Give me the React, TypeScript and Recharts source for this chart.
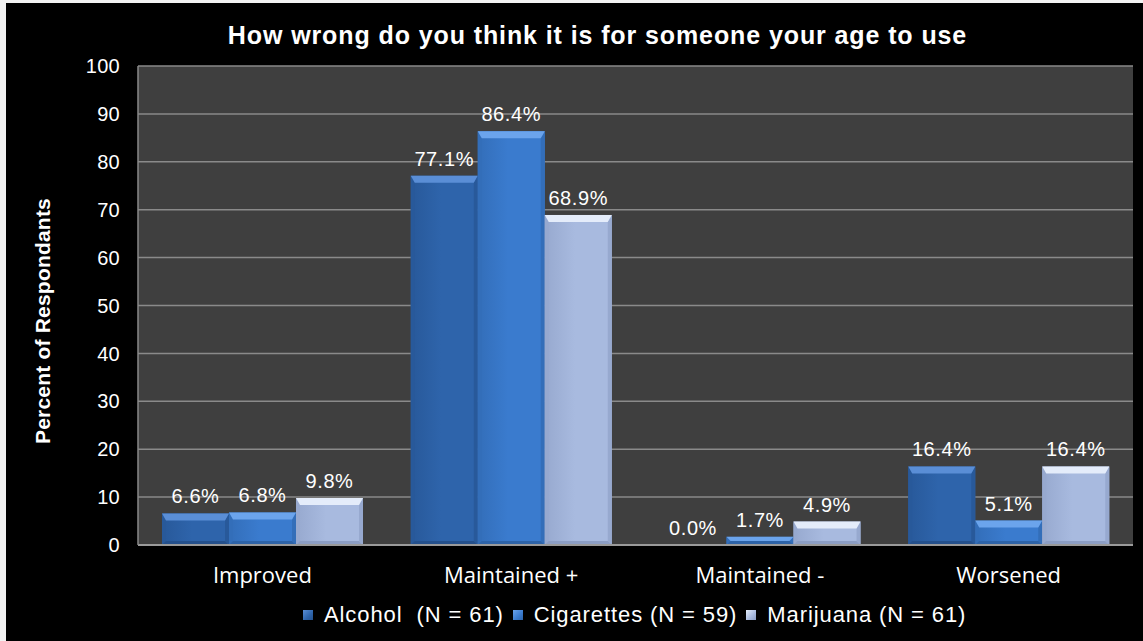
import React from 'react';
import { BarChart, Bar, XAxis, YAxis, CartesianGrid, Legend, LabelList } from 'recharts';

const categories = ['Improved', 'Maintained +', 'Maintained -', 'Worsened'];
const alcohol = [6.6, 77.1, 0.0, 16.4];
const cigarettes = [6.8, 86.4, 1.7, 5.1];
const marijuana = [9.8, 68.9, 4.9, 16.4];
const seriesNames = ['Alcohol  (N = 61)', 'Cigarettes (N = 59)', 'Marijuana (N = 61)'];
const yTicks = [0, 10, 20, 30, 40, 50, 60, 70, 80, 90, 100];

const data = categories.map((name, i) => ({
  name,
  alcohol: alcohol[i],
  cigarettes: cigarettes[i],
  marijuana: marijuana[i],
}));

const colors = {
  alcohol: { base: '#2e64ab', edge: '#28599a', top: '#5a8ed6', bottom: '#24508c', icon: '#3a72bd' },
  cigarettes: { base: '#3a7bce', edge: '#336eb9', top: '#6ba4ec', bottom: '#2d63a8', icon: '#4a8ad8' },
  marijuana: { base: '#a8badf', edge: '#97a9cf', top: '#e4ecfa', bottom: '#8c9ec4', icon: '#b6c5e4' },
};

type Key = keyof typeof colors;

const bevelBar = (key: Key) => (props: any) => {
  const { x, y, width, height } = props;
  if (!height || height <= 0.5) return <g />;
  const c = colors[key];
  const b = Math.min(7, height / 2, width / 2);
  const s = Math.min(4, height / 2);
  const x2 = x + width;
  const y2 = y + height;
  return (
    <g>
      <rect x={x} y={y} width={width} height={height} fill={`url(#body-${key})`} />
      <polygon points={`${x},${y} ${x + s},${y + b} ${x + s},${y2 - s} ${x},${y2}`} fill={c.edge} />
      <polygon points={`${x2},${y} ${x2 - s},${y + b} ${x2 - s},${y2 - s} ${x2},${y2}`} fill={c.edge} />
      <polygon points={`${x},${y2} ${x + s},${y2 - s} ${x2 - s},${y2 - s} ${x2},${y2}`} fill={c.bottom} />
      <polygon points={`${x},${y} ${x2},${y} ${x2 - s},${y + b} ${x + s},${y + b}`} fill={c.top} />
    </g>
  );
};

const fmt = (v: any) => `${Number(v).toFixed(1)}%`;

const labelStyle = { fill: '#ffffff', fontSize: 20, fontFamily: 'Arial, "Liberation Sans", sans-serif', letterSpacing: 0.6 };

const renderLegend = () => (
  <div
    style={{
      display: 'flex',
      alignItems: 'center',
      height: 30,
      paddingLeft: 303,
      color: '#ffffff',
      fontFamily: 'Arial, "Liberation Sans", sans-serif',
      fontSize: 22,
      letterSpacing: 0.9,
      whiteSpace: 'pre',
    }}
  >
    {(Object.keys(colors) as Key[]).map((k, i) => (
      <span key={k} style={{ display: 'flex', alignItems: 'center', marginRight: 9 }}>
        <span
          style={{
            display: 'inline-block',
            width: 10,
            height: 10,
            marginRight: 11,
            background: `linear-gradient(135deg, ${colors[k].top}, ${colors[k].base} 60%, ${colors[k].bottom})`,
          }}
        />
        {seriesNames[i]}
      </span>
    ))}
  </div>
);

export default function App() {
  return (
    <div style={{ position: 'absolute', left: 0, top: 0, width: 1143, height: 641, background: '#f2f2f2' }}>
      <div style={{ position: 'absolute', left: 6, top: 3, width: 1137, height: 638, background: '#000' }} />
      <div
        style={{
          position: 'absolute',
          left: 26,
          top: 23,
          width: 1143,
          textAlign: 'center',
          color: '#fff',
          fontFamily: 'Arial, "Liberation Sans", sans-serif',
          fontWeight: 'bold',
          fontSize: 25,
          lineHeight: '25px',
          letterSpacing: 0.9,
          zIndex: 2,
        }}
      >
        How wrong do you think it is for someone your age to use
      </div>
      <div
        style={{
          position: 'absolute',
          left: 43,
          top: 321,
          transform: 'translate(-50%, -50%) rotate(-90deg)',
          color: '#fff',
          fontFamily: 'Arial, "Liberation Sans", sans-serif',
          fontWeight: 'bold',
          fontSize: 21,
          whiteSpace: 'nowrap',
          letterSpacing: 0.2,
          zIndex: 2,
        }}
      >
        Percent of Respondants
      </div>
      <div style={{ position: 'absolute', left: 0, top: 0 }}>
        <BarChart
          width={1143}
          height={641}
          data={data}
          margin={{ top: 66, right: 10, bottom: 11, left: 78 }}
          barCategoryGap={24}
          barGap={0}
        >
          <defs>
            {(Object.keys(colors) as Key[]).map((k) => (
              <linearGradient key={k} id={`body-${k}`} x1="0" y1="0" x2="1" y2="0">
                <stop offset="0%" stopColor={colors[k].edge} />
                <stop offset="45%" stopColor={colors[k].base} />
                <stop offset="100%" stopColor={colors[k].base} />
              </linearGradient>
            ))}
          </defs>
          <CartesianGrid fill="#3f3f3f" stroke="#8a8a8a" strokeWidth={1.5} vertical={false} />
          <XAxis
            dataKey="name"
            height={55}
            tickSize={0}
            tickMargin={22}
            tickLine={false}
            axisLine={{ stroke: '#9a9a9a', strokeWidth: 2 }}
            tick={{ fill: '#ffffff', fontSize: 22, fontFamily: '"Open Sans", sans-serif' }}
            interval={0}
          />
          <YAxis
            width={60}
            domain={[0, 100]}
            ticks={yTicks}
            tickSize={0}
            tickMargin={18}
            tickLine={false}
            axisLine={{ stroke: '#8a8a8a', strokeWidth: 1.5 }}
            tick={{ fill: '#ffffff', fontSize: 20, fontFamily: 'Arial, "Liberation Sans", sans-serif', letterSpacing: 0.3 }}
          />
          <Legend verticalAlign="bottom" content={renderLegend} wrapperStyle={{ left: 0, width: 1143 }} />
          <Bar dataKey="alcohol" name={seriesNames[0]} fill={colors.alcohol.base} shape={bevelBar('alcohol')} isAnimationActive={false}>
            <LabelList dataKey="alcohol" position="top" offset={10} formatter={fmt} style={labelStyle} />
          </Bar>
          <Bar dataKey="cigarettes" name={seriesNames[1]} fill={colors.cigarettes.base} shape={bevelBar('cigarettes')} isAnimationActive={false}>
            <LabelList dataKey="cigarettes" position="top" offset={10} formatter={fmt} style={labelStyle} />
          </Bar>
          <Bar dataKey="marijuana" name={seriesNames[2]} fill={colors.marijuana.base} shape={bevelBar('marijuana')} isAnimationActive={false}>
            <LabelList dataKey="marijuana" position="top" offset={10} formatter={fmt} style={labelStyle} />
          </Bar>
        </BarChart>
      </div>
    </div>
  );
}
